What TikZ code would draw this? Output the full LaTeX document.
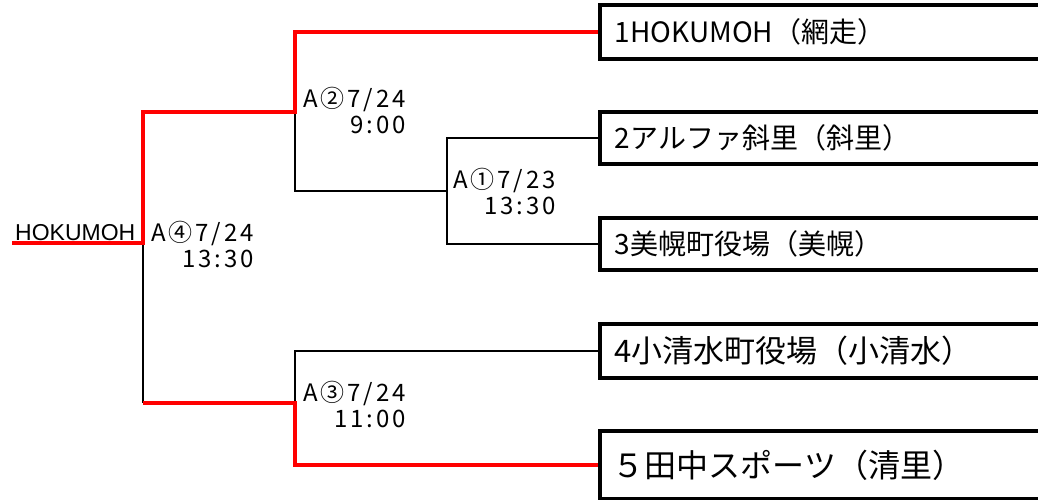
\documentclass[tikz,border=0pt]{standalone}
\usepackage{fontspec}
\setmainfont{Noto Sans CJK JP}
\newfontfamily\latinfont{Liberation Sans}
\usetikzlibrary{positioning}
\tikzset{>=stealth}
\tikzset{
	% bracket lines
	loseline/.style={draw=black,line width=1.8pt},
	winline/.style={draw=red,line width=3.5pt},
	% team boxes
	teambox/.style={draw=black,line width=3.5pt,anchor=west,minimum width=600pt,text width=570pt,align=left,inner xsep=6pt},
	% match number, date and time
	gamelabel/.style={anchor=base west,align=right,inner sep=0pt,font=\fontsize{24}{26}\selectfont\addfontfeatures{LetterSpace=12}},
}

\begin{document}
\begin{tikzpicture}[x=1pt,y=-1pt]
\useasboundingbox (0,0) rectangle (1038,500);
\clip (0,0) rectangle (1038,500);
% the teams
\node[teambox,minimum height=54pt,font=\fontsize{28}{28}\selectfont] (team1) at (598,32) {1HOKUMOH（網走）};
\node[teambox,minimum height=52pt,font=\fontsize{28}{28}\selectfont] (team2) at (598,138) {2アルファ斜里（斜里）};
\node[teambox,minimum height=52pt,font=\fontsize{28}{28}\selectfont] (team3) at (598,244) {3美幌町役場（美幌）};
\node[teambox,minimum height=54pt,font=\fontsize{31}{31}\selectfont] (team4) at (598,351) {4小清水町役場（小清水）};
\node[teambox,minimum height=68pt,font=\fontsize{32}{32}\selectfont,inner xsep=0pt] (team5) at (598,465) {\hspace{-2pt}５田中スポーツ（清里）};
% the games
\coordinate (champ) at (12,243);
\coordinate (g4) at (143,243);
\coordinate (g2) at (295,112);
\coordinate (g1) at (447,191);
\coordinate (g3) at (295,403);
% losers in black
\draw[loseline] (g1) |- (team2.west);
\draw[loseline] (g1) |- (team3.west);
\draw[loseline] (g2) |- (g1);
\draw[loseline] (g3) |- (team4.west);
\draw[loseline] (g4) -- (g4 |- g3);
% the winning path in red
\draw[winline] (champ) -- (g4) |- (g2) |- (team1.west);
\draw[winline] (g4 |- g3) -- (g3) |- (team5.west);
% labels
\node[anchor=base west,inner sep=0pt,font=\latinfont\fontsize{23}{23}\selectfont] (winner) at (15,240) {HOKUMOH};
\node[gamelabel] (l1) at (453,214) {A①7/23\\13:30};
\node[gamelabel] (l2) at (303,134) {A②7/24\\9:00};
\node[gamelabel] (l3) at (303,427) {A③7/24\\11:00};
\node[gamelabel] (l4) at (151,267) {A④7/24\\13:30};
\end{tikzpicture}
\end{document}
